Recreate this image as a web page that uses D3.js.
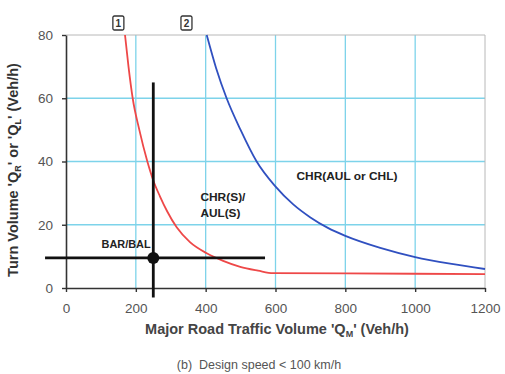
<!DOCTYPE html>
<html>
<head>
<meta charset="utf-8">
<script src="https://cdn.jsdelivr.net/npm/d3@7/dist/d3.min.js"></script>
<style>
  body { margin: 0; background: #fff; }
  text { font-family: "Liberation Sans", Arial, sans-serif; }
</style>
</head>
<body>
<div id="chart"></div>
<script>
// curve 1 (red) : BAR/BAL limit
const redCurve = [
  [169, 80], [179, 70], [191, 60], [210, 50], [233, 40], [250, 34], [269, 29],
  [290, 24.2], [317, 19.2], [355, 14.5], [403, 11], [450, 8.6], [499, 6.7],
  [550, 5.5], [593, 4.7], [800, 4.6], [1200, 4.4]
];
// curve 2 (blue) : CHR limit
const blueCurve = [
  [403, 80], [430, 69.5], [460, 60], [500, 50], [546, 40], [599, 32.2], [650, 26.5],
  [700, 22.3], [750, 19], [800, 16.5], [900, 12.7], [1000, 9.8], [1100, 7.7], [1200, 6]
];
const xTicks = [0, 200, 400, 600, 800, 1000, 1200];
const yTicks = [0, 20, 40, 60, 80];
const crossPoint = [250, 9.5];
const crossV = [-3, 65];     // y range of vertical bar
const crossH = [-60, 570];   // x range of horizontal bar
const curveTags = [{ label: '1', x: 150 }, { label: '2', x: 345 }];

const W = 505, H = 374;
const margin = { top: 35, right: 20, bottom: 86, left: 66 };
const iw = W - margin.left - margin.right;
const ih = H - margin.top - margin.bottom;

const svg = d3.select('#chart').append('svg').attr('width', W).attr('height', H);
const g = svg.append('g').attr('transform', `translate(${margin.left},${margin.top})`);

const x = d3.scaleLinear().domain([0, 1200]).range([0, iw]);
const y = d3.scaleLinear().domain([0, 80]).range([ih, 0]);

// grid
const gridColor = '#7dd3ea';
g.append('g').selectAll('line').data(xTicks.filter(d => d > 0 && d < 1200)).join('line')
  .attr('x1', d => x(d)).attr('x2', d => x(d)).attr('y1', 0).attr('y2', ih)
  .attr('stroke', gridColor).attr('stroke-width', 1.3);
g.append('g').selectAll('line').data(yTicks.filter(d => d > 0 && d < 80)).join('line')
  .attr('x1', 0).attr('x2', iw).attr('y1', d => y(d)).attr('y2', d => y(d))
  .attr('stroke', gridColor).attr('stroke-width', 1.3);

// top / right frame
g.append('line').attr('x1', 0).attr('x2', iw).attr('y1', 0).attr('y2', 0).attr('stroke', '#b8b8b8');
g.append('line').attr('x1', iw).attr('x2', iw).attr('y1', 0).attr('y2', ih).attr('stroke', '#b8b8b8');

// axes
const xAxis = g.append('g').attr('transform', `translate(0,${ih})`)
  .call(d3.axisBottom(x).tickValues(xTicks).tickFormat(d3.format('d'))
    .tickSize(4).tickSizeOuter(0).tickPadding(11));
const yAxis = g.append('g')
  .call(d3.axisLeft(y).tickValues(yTicks).tickSize(4).tickSizeOuter(0).tickPadding(9));
[xAxis, yAxis].forEach(a => {
  a.select('.domain').attr('stroke', '#333').attr('stroke-width', 1.6);
  a.selectAll('.tick line').attr('stroke', '#333').attr('stroke-width', 1.4);
  a.selectAll('.tick text').attr('fill', '#555').attr('font-size', 13.5)
    .attr('font-family', '"Liberation Sans", Arial, sans-serif');
});

// curves
const line = d3.line().x(d => x(d[0])).y(d => y(d[1])).curve(d3.curveMonotoneX);
g.append('path').datum(redCurve).attr('d', line)
  .attr('fill', 'none').attr('stroke', '#ee4848').attr('stroke-width', 1.8);
g.append('path').datum(blueCurve).attr('d', line)
  .attr('fill', 'none').attr('stroke', '#3050c0').attr('stroke-width', 1.8);

// curve tags
const tag = g.append('g').selectAll('g').data(curveTags).join('g')
  .attr('transform', d => `translate(${x(d.x)},-12)`);
tag.append('rect').attr('x', -5.5).attr('y', -7).attr('width', 11).attr('height', 14).attr('rx', 1.5)
  .attr('fill', '#fff').attr('stroke', '#333').attr('stroke-width', 1.3);
tag.append('text').text(d => d.label).attr('text-anchor', 'middle').attr('y', 4)
  .attr('font-size', 10).attr('font-weight', 'bold').attr('fill', '#333');

// crosshair
g.append('line').attr('x1', x(crossPoint[0])).attr('x2', x(crossPoint[0]))
  .attr('y1', y(crossV[0])).attr('y2', y(crossV[1])).attr('stroke', '#111').attr('stroke-width', 2.8);
g.append('line').attr('x1', x(crossH[0])).attr('x2', x(crossH[1]))
  .attr('y1', y(crossPoint[1])).attr('y2', y(crossPoint[1])).attr('stroke', '#111').attr('stroke-width', 2.8);
g.append('circle').attr('cx', x(crossPoint[0])).attr('cy', y(crossPoint[1])).attr('r', 6).attr('fill', '#111');

// region labels
const lab = (t, px, py, len) => g.append('text').text(t).attr('x', px).attr('y', py)
  .attr('font-size', 10).attr('font-weight', 'bold').attr('fill', '#222')
  .attr('textLength', len).attr('lengthAdjust', 'spacingAndGlyphs');
lab('BAR/BAL', x(102), y(12.5), 49);
lab('CHR(S)/', x(385), y(27.4), 45);
lab('AUL(S)', x(385), y(22.6), 40);
lab('CHR(AUL or CHL)', x(660), y(34.2), 101);

// axis titles
const xt = svg.append('text').attr('x', 277).attr('y', 334).attr('text-anchor', 'middle')
  .attr('font-size', 14.5).attr('font-weight', 'bold').attr('fill', '#444');
xt.append('tspan').text("Major Road Traffic Volume 'Q");
xt.append('tspan').text('M').attr('font-size', 9).attr('dy', 3);
xt.append('tspan').text("' (Veh/h)").attr('dy', -3);

const yt = svg.append('text').attr('transform', 'translate(18,170) rotate(-90)').attr('text-anchor', 'middle')
  .attr('font-size', 14.5).attr('font-weight', 'bold').attr('fill', '#333');
yt.append('tspan').text("Turn Volume 'Q");
yt.append('tspan').text('R').attr('font-size', 9).attr('dy', 3);
yt.append('tspan').text("' or 'Q").attr('dy', -3);
yt.append('tspan').text('L').attr('font-size', 9).attr('dy', 3);
yt.append('tspan').text("' (Veh/h)").attr('dy', -3);

svg.append('text').attr('x', 259).attr('y', 369).attr('text-anchor', 'middle')
  .attr('font-size', 12.5).attr('fill', '#555')
  .style('white-space', 'pre')
  .text('(b)  Design speed < 100 km/h');
</script>
</body>
</html>
